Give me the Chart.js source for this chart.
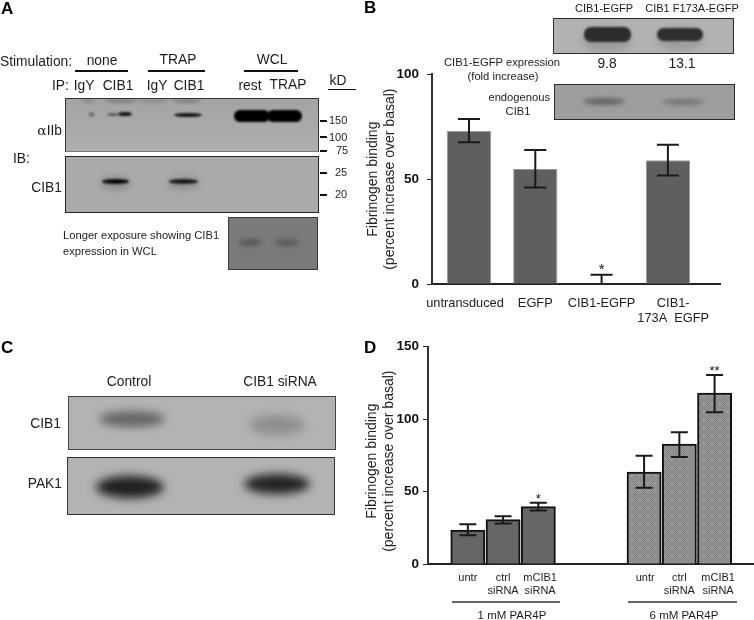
<!DOCTYPE html>
<html><head><meta charset="utf-8">
<script src="https://cdn.jsdelivr.net/npm/chart.js@4"></script>
<style>
html,body{margin:0;padding:0;background:#fff;width:754px;height:620px;overflow:hidden}
body{position:relative;font-family:"Liberation Sans",Arial,sans-serif;color:#1c1c1c}
#all{position:absolute;left:0;top:0;width:754px;height:620px;background:#fff;filter:blur(.35px)}
canvas{position:absolute}
#cbw,#cdw{position:absolute;left:350px;width:404px}
#cbw{top:50px;height:280px}
#cdw{top:330px;height:290px}
.t{position:absolute;white-space:nowrap;line-height:1;transform:translateY(-50%)}
.c{transform:translate(-50%,-50%)}
.r{transform:translate(-100%,-50%)}
.h{font-weight:bold;font-size:17px;color:#000}
.m{font-size:13.8px}
.s{font-size:11.2px}
.x{font-size:11px}
.l{position:absolute;background:#111}
.p{position:absolute;box-sizing:border-box;border:1.5px solid #333;overflow:hidden}
.b{position:absolute;border-radius:50%}
</style></head><body><div id="all">

<!-- Panel A -->
<div class="t h" style="left:1px;top:8px">A</div>
<div class="t m" style="left:0;top:62px">Stimulation:</div>
<div class="t m c" style="left:102px;top:61px">none</div>
<div class="t m c" style="left:178px;top:60px">TRAP</div>
<div class="t m c" style="left:272px;top:60px">WCL</div>
<div class="l" style="left:75px;width:53px;top:70px;height:2px"></div>
<div class="l" style="left:148px;width:57px;top:70px;height:2px"></div>
<div class="l" style="left:244px;width:54px;top:70px;height:2px"></div>
<div class="t m" style="left:52px;top:86px">IP:</div>
<div class="t m c" style="left:84px;top:86px">IgY</div>
<div class="t m c" style="left:118px;top:86px">CIB1</div>
<div class="t m c" style="left:157px;top:86px">IgY</div>
<div class="t m c" style="left:189px;top:86px">CIB1</div>
<div class="t m c" style="left:250px;top:86px">rest</div>
<div class="t m c" style="left:288px;top:85px">TRAP</div>
<div class="t m c" style="left:338px;top:81px">kD</div>
<div class="l" style="left:328px;width:28px;top:89px;height:1px"></div>

<div class="p" style="left:65px;top:98px;width:254px;height:54px;background:linear-gradient(#a4a4a4,#aeaeae);border-bottom-color:#777">
  <div class="b" style="left:16px;top:0;width:12px;height:4px;background:#8a8a8a;filter:blur(1.5px)"></div>
  <div class="b" style="left:39px;top:0;width:32px;height:4px;background:#808080;filter:blur(1.5px)"></div>
  <div class="b" style="left:72px;top:0;width:30px;height:4px;background:#8e8e8e;filter:blur(1.5px)"></div>
  <div class="b" style="left:107px;top:0;width:28px;height:4px;background:#808080;filter:blur(1.5px)"></div>
  <div class="b" style="left:23px;top:14px;width:5px;height:3px;background:#444;filter:blur(1.5px)"></div>
  <div class="b" style="left:41px;top:14px;width:12px;height:3px;background:#555;filter:blur(1px)"></div>
  <div class="b" style="left:52px;top:13px;width:14px;height:4px;background:#111;filter:blur(1px)"></div>
  <div class="b" style="left:108px;top:14px;width:28px;height:4px;background:#151515;filter:blur(1px)"></div>
  <div class="b" style="left:168px;top:11px;width:36px;height:12px;background:#000;border-radius:6px;filter:blur(.8px)"></div>
  <div class="b" style="left:201px;top:11px;width:35px;height:12px;background:#000;border-radius:6px;filter:blur(.8px)"></div>
</div>
<div class="p" style="left:65px;top:156px;width:254px;height:57px;background:#aaaaaa;border-color:#222">
  <div class="b" style="left:34px;top:19px;width:31px;height:14px;background:#8e8e8e;filter:blur(3px)"></div>
  <div class="b" style="left:101px;top:19px;width:33px;height:14px;background:#919191;filter:blur(3px)"></div>
  <div class="b" style="left:36px;top:22px;width:27px;height:5px;background:#0a0a0a;filter:blur(1.2px)"></div>
  <div class="b" style="left:103px;top:22px;width:29px;height:5px;background:#1a1a1a;filter:blur(1.2px)"></div>
</div>
<div class="p" style="left:228px;top:217px;width:90px;height:53px;background:#7a7a7a;border-color:#3a3a3a">
  <div class="b" style="left:9px;top:21px;width:24px;height:7px;background:#5a5a5a;filter:blur(2px)"></div>
  <div class="b" style="left:46px;top:21px;width:24px;height:7px;background:#5c5c5c;filter:blur(2px)"></div>
</div>

<div class="l" style="left:320px;width:7px;top:120px;height:2px"></div>
<div class="l" style="left:320px;width:7px;top:136px;height:2px"></div>
<div class="l" style="left:320px;width:7px;top:150px;height:2px"></div>
<div class="l" style="left:320px;width:7px;top:172px;height:2px"></div>
<div class="l" style="left:320px;width:7px;top:194px;height:2px"></div>
<div class="t x" style="left:329px;top:120px">150</div>
<div class="t x" style="left:329px;top:137px">100</div>
<div class="t x" style="left:336px;top:150px">75</div>
<div class="t x" style="left:335px;top:172px">25</div>
<div class="t x" style="left:335px;top:194px">20</div>
<div class="t m r" style="left:62px;top:131px"><span style="font-family:'DejaVu Serif',serif">α</span>IIb</div>
<div class="t m" style="left:13px;top:159px">IB:</div>
<div class="t m r" style="left:62px;top:188px">CIB1</div>
<div class="t s" style="left:63px;top:236px">Longer exposure showing CIB1</div>
<div class="t s" style="left:63px;top:252px">expression in WCL</div>

<!-- Panel B -->
<div class="t h" style="left:364px;top:7px">B</div>
<div class="t x c" style="left:604px;top:8px">CIB1-EGFP</div>
<div class="t x c" style="left:692px;top:8px">CIB1 F173A-EGFP</div>
<div class="p" style="left:553px;top:18px;width:181px;height:36px;background:#b2b2b2;border-color:#2a2a2a">
  <div class="b" style="left:28px;top:8px;width:50px;height:25px;background:#9c9c9c;filter:blur(3px)"></div>
  <div class="b" style="left:102px;top:9px;width:48px;height:22px;background:#9c9c9c;filter:blur(3px)"></div>
  <div class="b" style="left:30px;top:8px;width:47px;height:15px;background:#2c2c2c;border-radius:7px;filter:blur(1px)"></div>
  <div class="b" style="left:103px;top:9px;width:46px;height:13px;background:#2e2e2e;border-radius:7px;filter:blur(1px)"></div>
</div>
<div class="t s c" style="left:502px;top:63px">CIB1-EGFP expression</div>
<div class="t s c" style="left:503px;top:77px">(fold increase)</div>
<div class="t m c" style="left:607px;top:64px">9.8</div>
<div class="t m c" style="left:682px;top:64px">13.1</div>
<div class="p" style="left:554px;top:84px;width:181px;height:36px;background:#9e9e9e;border-color:#2a2a2a">
  <div class="b" style="left:28px;top:13px;width:42px;height:7px;background:#666;filter:blur(2px)"></div>
  <div class="b" style="left:107px;top:14px;width:42px;height:6px;background:#747474;filter:blur(2px)"></div>
</div>
<div class="t s r" style="left:550px;top:98px">endogenous</div>
<div class="t s c" style="left:518px;top:112px">CIB1</div>

<!-- Panel C -->
<div class="t h" style="left:1px;top:347px">C</div>
<div class="t m c" style="left:129px;top:382px">Control</div>
<div class="t m c" style="left:280px;top:382px">CIB1 siRNA</div>
<div class="p" style="left:68px;top:396px;width:268px;height:54px;background:#b3b3b3;border-color:#444">
  <div class="b" style="left:30px;top:14px;width:66px;height:16px;background:#666;filter:blur(4px)"></div>
  <div class="b" style="left:180px;top:18px;width:56px;height:20px;background:#8e8e8e;filter:blur(5px)"></div>
</div>
<div class="p" style="left:67px;top:457px;width:268px;height:58px;background:#b3b3b3;border-color:#333">
  <div class="b" style="left:28px;top:18px;width:68px;height:22px;background:#1f1f1f;filter:blur(5px)"></div>
  <div class="b" style="left:176px;top:16px;width:66px;height:20px;background:#222;filter:blur(5px)"></div>
</div>
<div class="t m r" style="left:61px;top:424px">CIB1</div>
<div class="t m r" style="left:62px;top:484px">PAK1</div>

<!-- Panel D -->
<div class="t h" style="left:364px;top:347px">D</div>

<div id="cbw"><canvas id="cb" width="404" height="280"></canvas></div>
<div id="cdw"><canvas id="cd" width="404" height="290"></canvas></div>

<div class="l" style="left:452px;width:108px;top:601px;height:2px;background:#666"></div>
<div class="l" style="left:628px;width:109px;top:601px;height:2px;background:#666"></div>
<div class="t x c" style="left:512px;top:616px;font-size:11.5px">1 mM PAR4P</div>
<div class="t x c" style="left:684px;top:616px;font-size:11.5px">6 mM PAR4P</div>
</div>

<script>
// ---- Panel B data ----
const bCategories = [["untransduced"], ["EGFP"], ["CIB1-EGFP"], ["CIB1-", "173A  EGFP"]];
const bPositions  = [0, 1, 2, 3];
const bLabelAt    = [-0.06, 1, 2, 3.08];
const bValues     = [72.9, 54.8, 0, 59];
const bErrTop     = [78.6, 63.9, 4.6, 66.4];
const bErrBottom  = [67.5, 46, 0, 51.7];
const bStars      = ["", "", "*", ""];
const bTicks      = [0, 50, 100];

// ---- Panel D data ----
const dCategories = [["untr"], ["ctrl", "siRNA"], ["mCIB1", "siRNA"], ["untr"], ["ctrl", "siRNA"], ["mCIB1", "siRNA"]];
const dPositions  = [0, 1, 2, 5, 6, 7];
const dLabelAt    = [0, 1, 2.05, 5.03, 6, 7.1];
const dValues     = [23.5, 30.6, 39.6, 63.5, 82.8, 118];
const dErrTop     = [27.4, 33, 42.3, 74.8, 91, 130.4];
const dErrBottom  = [19.8, 28, 37, 52.7, 73.8, 104.7];
const dStars      = ["", "", "*", "", "", "**"];
const dTicks      = [0, 50, 100, 150];
const yTitle      = ["Fibrinogen binding", "(percent increase over basal)"];

const FONT = '"Liberation Sans", Arial, sans-serif';

function dotPattern() {
  const c = document.createElement('canvas');
  c.width = c.height = 8;
  const g = c.getContext('2d');
  for (let y = 0; y < 8; y++) for (let x = 0; x < 8; x++) {
    const odd = (x + y) % 2 === 1;
    const spot = (x % 8 < 3 && y % 8 < 3);
    g.fillStyle = odd ? (spot ? '#adadad' : '#999999') : '#838383';
    g.fillRect(x, y, 1, 1);
  }
  return g.createPattern(c, 'repeat');
}

const errorBars = {
  id: 'errorBars',
  afterDatasetsDraw(chart, args, o) {
    const { ctx, scales: { x, y } } = chart;
    ctx.save();
    ctx.strokeStyle = '#1a1a1a';
    ctx.lineWidth = 2;
    o.positions.forEach((p, i) => {
      const px = x.getPixelForValue(p);
      const top = y.getPixelForValue(o.top[i]);
      const bot = y.getPixelForValue(o.bottom[i]);
      ctx.beginPath();
      ctx.moveTo(px, top); ctx.lineTo(px, bot);
      ctx.moveTo(px - o.cap, top); ctx.lineTo(px + o.cap, top);
      if (o.bottom[i] > 0) { ctx.moveTo(px - o.cap, bot); ctx.lineTo(px + o.cap, bot); }
      ctx.stroke();
      if (o.stars[i]) {
        ctx.fillStyle = '#111';
        ctx.font = o.starSize + 'px ' + FONT;
        ctx.textAlign = 'center';
        ctx.textBaseline = 'alphabetic';
        ctx.fillText(o.stars[i], px, top + o.starShift);
      }
    });
    ctx.restore();
  }
};

function barChart(id, cfg) {
  return new Chart(document.getElementById(id), {
    type: 'bar',
    plugins: [errorBars],
    data: {
      datasets: [{
        data: cfg.positions.map((p, i) => ({ x: p, y: cfg.values[i] })),
        backgroundColor: cfg.fill,
        borderColor: cfg.border,
        borderWidth: cfg.borderWidth,
        barPercentage: cfg.barPct,
        categoryPercentage: 1
      }]
    },
    options: {
      responsive: false, animation: false,
      layout: { padding: cfg.padding },
      plugins: {
        legend: { display: false }, tooltip: { enabled: false },
        errorBars: { positions: cfg.positions, top: cfg.top, bottom: cfg.bottom, stars: cfg.stars, cap: cfg.cap, starSize: cfg.starSize, starShift: cfg.starShift }
      },
      scales: {
        x: {
          type: 'linear', min: cfg.xMin, max: cfg.xMax, offset: false,
          grid: { display: false, drawTicks: false, offset: false },
          border: { color: '#222', width: 2 },
          afterBuildTicks(s) { s.ticks = cfg.labelAt.map(v => ({ value: v })); },
          afterFit(s) { s.height = cfg.xHeight; },
          ticks: {
            autoSkip: false, maxRotation: 0, padding: cfg.xPad,
            color: '#222', font: { family: FONT, size: cfg.xFont },
            callback(v, i) { return cfg.categories[i]; }
          }
        },
        y: {
          min: 0, max: cfg.yMax,
          grid: { drawOnChartArea: false, tickLength: 5, color: '#222', tickWidth: 1 },
          border: { color: '#333', width: 2 },
          afterBuildTicks(s) { s.ticks = cfg.ticks.map(v => ({ value: v })); },
          afterFit(s) { s.width = cfg.yWidth; },
          title: {
            display: true, text: cfg.title, color: '#222',
            font: { family: FONT, size: 14, lineHeight: 1.25 }, padding: { top: cfg.titleTop, bottom: 0 }
          },
          ticks: { color: '#111', font: { family: FONT, size: 13.5, weight: 'bold' }, padding: cfg.yPad }
        }
      }
    }
  });
}

barChart('cb', {
  categories: bCategories, positions: bPositions, labelAt: bLabelAt, values: bValues, top: bErrTop, bottom: bErrBottom,
  stars: bStars, ticks: bTicks, yMax: 100, title: yTitle,
  xMin: -0.558, xMax: 3.786, barPct: 0.668, cap: 11, starSize: 15, starShift: -1,
  fill: '#5f5f5f', border: '#999999', borderWidth: 1,
  padding: { left: 0, right: 34, top: 24, bottom: 0 },
  yWidth: 82, xHeight: 45.7, xPad: 11, xFont: 12.8, titleTop: 14, yPad: 8
});

barChart('cd', {
  categories: dCategories, positions: dPositions, labelAt: dLabelAt, values: dValues, top: dErrTop, bottom: dErrBottom,
  stars: dStars, ticks: dTicks, yMax: 150, title: yTitle.map(s => s + '   '),
  xMin: -1.13, xMax: 8.118, barPct: 1, cap: 8.5, starSize: 13, starShift: 0,
  fill: ['#666666', '#666666', '#666666'].concat([0, 0, 0].map(dotPattern)), border: '#111111', borderWidth: 2,
  padding: { left: 0, right: 0, top: 16.7, bottom: 0 },
  yWidth: 78, xHeight: 56, xPad: 7, xFont: 11, titleTop: 13, yPad: 4
});
</script>
</body></html>
